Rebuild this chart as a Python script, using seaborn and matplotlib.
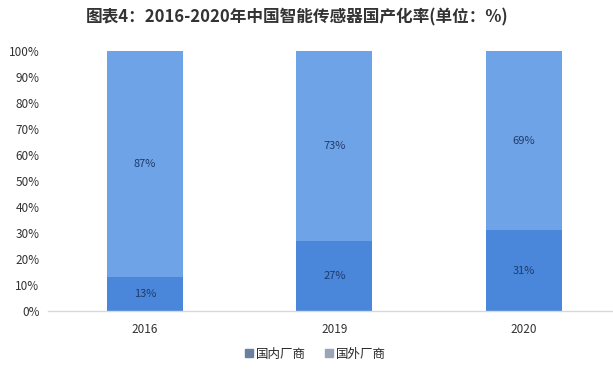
import matplotlib
matplotlib.use('Agg')
import matplotlib.pyplot as plt
from matplotlib.patches import Patch
from matplotlib.ticker import FuncFormatter
import pandas as pd
import seaborn as sns

years = ['2016', '2019', '2020']
domestic = [13, 27, 31]
foreign = [87, 73, 69]
series_names = ['国内厂商', '国外厂商']
title = '图表4：2016-2020年中国智能传感器国产化率(单位：%)'

sns.set_theme(style='white')
plt.rcParams['font.family'] = ['Noto Sans CJK SC', 'DejaVu Sans']

df = pd.DataFrame({'year': years, 'domestic': domestic, 'foreign': foreign})
df['total'] = df['domestic'] + df['foreign']

c_dom = '#4A86DA'
c_for = '#6EA3E8'

fig = plt.figure(figsize=(6.13, 3.71), dpi=100)
ax = fig.add_axes([0.078, 0.162, 0.922, 0.7005])

sns.barplot(data=df, x='year', y='total', color=c_for, width=0.4,
            saturation=1, linewidth=0, ax=ax)
sns.barplot(data=df, x='year', y='domestic', color=c_dom, width=0.4,
            saturation=1, linewidth=0, ax=ax)

# value labels centered in each segment
for i, (d, f) in enumerate(zip(domestic, foreign)):
    ax.text(i, d / 2, f'{d}%', ha='center', va='center', fontsize=8, color='#1F3A6B')
    ax.text(i, d + f / 2, f'{f}%', ha='center', va='center', fontsize=8, color='#1F3A6B')

ax.set_xlim(-0.512, 2.47)
ax.set_ylim(0, 100)
ax.set_yticks(range(0, 101, 10))
ax.yaxis.set_major_formatter(FuncFormatter(lambda v, p: f'{v:.0f}%'))
ax.set_xlabel('')
ax.set_ylabel('')
ax.tick_params(axis='both', length=0, labelsize=8.5, colors='#333333')
ax.tick_params(axis='x', pad=9)
ax.tick_params(axis='y', pad=6)
for s in ['top', 'right', 'left']:
    ax.spines[s].set_visible(False)
ax.spines['bottom'].set_color('#D9D9D9')
ax.spines['bottom'].set_linewidth(1)

fig.text(0.485, 0.952, title, ha='center', va='center', fontsize=12,
         fontweight='bold', color='#333333')

handles = [Patch(color='#6A80A0'), Patch(color='#9AA6B8')]
fig.legend(handles, series_names, loc='center', bbox_to_anchor=(0.515, 0.045),
           ncol=2, frameon=False, fontsize=9, handlelength=0.6, handleheight=0.6,
           handletextpad=0.3, columnspacing=1.5)

fig.savefig('out.png', dpi=100)
